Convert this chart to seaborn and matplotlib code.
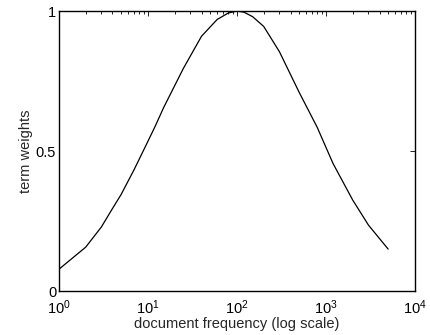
import numpy as np
import pandas as pd
import matplotlib
matplotlib.use('Agg')
import matplotlib.pyplot as plt
import seaborn as sns

# values
doc_freq = [1, 2, 3, 4, 5, 7, 9, 12, 15, 25, 40, 60, 80, 100, 120, 150, 200, 300,
            500, 800, 1200, 2000, 3000, 5000]
term_weight = [0.078, 0.157, 0.229, 0.295, 0.345, 0.434, 0.505, 0.587, 0.655, 0.795,
               0.91, 0.97, 0.993, 1.0, 0.996, 0.98, 0.945, 0.855, 0.71, 0.584, 0.456,
               0.325, 0.236, 0.15]

df = pd.DataFrame({'df': doc_freq, 'w': term_weight})

sns.set_style('white')
plt.rcParams['font.family'] = ['Liberation Sans', 'DejaVu Sans']

fig = plt.figure(figsize=(4.3, 3.35), dpi=100)
ax = fig.add_axes([0.137, 0.131, 0.828, 0.836])
sns.lineplot(data=df, x='df', y='w', color='black', linewidth=0.9, ax=ax)

ax.set_xscale('log')
ax.set_xlim(1, 1e4)
ax.set_ylim(0, 1)
ax.set_yticks([0, 0.5, 1])
ax.set_yticklabels(['0', '0.5', '1'])
ax.set_xlabel('document frequency (log scale)', fontsize=10.5, labelpad=0)
ax.set_ylabel('term weights', fontsize=10.5, labelpad=2)

ax.tick_params(axis='both', which='both', direction='in', top=True, right=True,
               labelsize=10.5, colors='black')
ax.tick_params(axis='x', which='both', pad=5)
ax.tick_params(axis='y', which='both', pad=2)
ax.tick_params(which='major', length=3.5, width=0.6)
ax.tick_params(which='minor', length=2, width=0.6)
for s in ax.spines.values():
    s.set_color('black')
    s.set_linewidth(1.0)

plt.savefig('out.png', dpi=100)
